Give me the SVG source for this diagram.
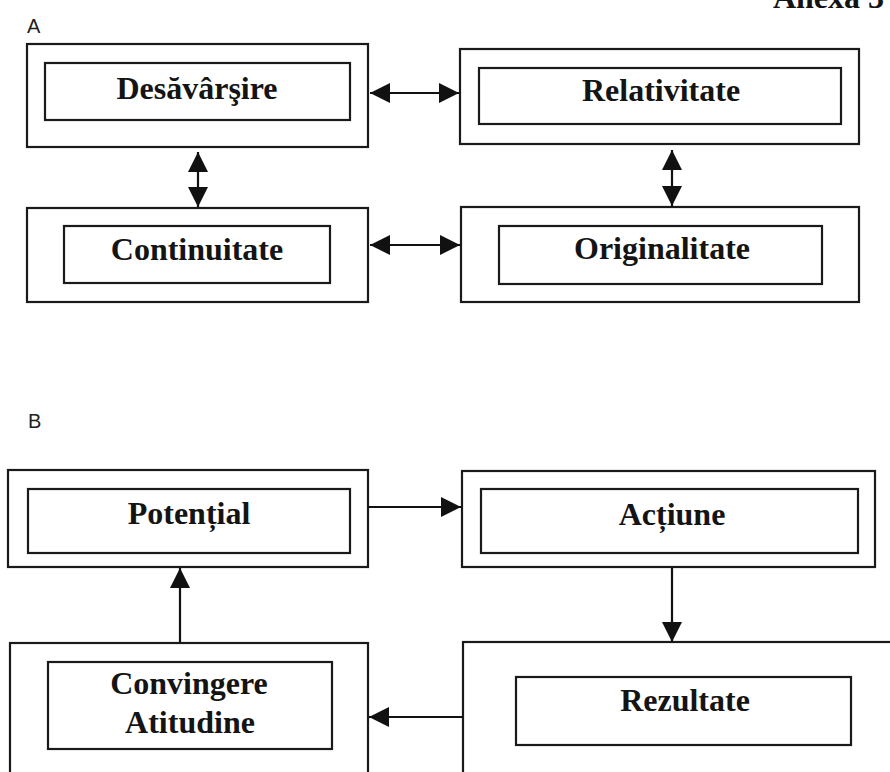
<svg xmlns="http://www.w3.org/2000/svg" width="890" height="772" viewBox="0 0 890 772">
  <defs>
    <marker id="head" viewBox="0 0 20 20" refX="20" refY="10" markerWidth="20" markerHeight="20" markerUnits="userSpaceOnUse" orient="auto-start-reverse">
      <path d="M0,0 L20,10 L0,20 Z" fill="#111"/>
    </marker>
    <style>
      .frame { fill: none; stroke: #1a1a1a; stroke-width: 2.2; }
      .label { font-family: "Liberation Serif", "Times New Roman", serif; font-weight: bold; font-size: 32px; fill: #141414; text-anchor: middle; }
      .tag { font-family: "Liberation Sans", Arial, sans-serif; font-size: 20px; fill: #222; }
      .link { stroke: #111; stroke-width: 2.2; fill: none; }
      .both { marker-start: url(#head); marker-end: url(#head); }
      .one { marker-end: url(#head); }
    </style>
  </defs>
  <rect width="890" height="772" fill="#ffffff"/>

  <!-- page heading, running into the top edge -->
  <text x="884" y="8" class="label" style="text-anchor:end">Anexa 3</text>

  <!-- Part A -->
  <text x="27" y="33" class="tag">A</text>

  <g id="desavarsire">
    <rect class="frame" x="27" y="44" width="341" height="103"/>
    <rect class="frame" x="45" y="63" width="305" height="57"/>
    <text class="label" x="197" y="99">Desăvârşire</text>
  </g>

  <g id="relativitate">
    <rect class="frame" x="460" y="49" width="399" height="95"/>
    <rect class="frame" x="479" y="68" width="362" height="56"/>
    <text class="label" x="661" y="101">Relativitate</text>
  </g>

  <g id="continuitate">
    <rect class="frame" x="27" y="208" width="341" height="94"/>
    <rect class="frame" x="64" y="226" width="266" height="57"/>
    <text class="label" x="197" y="260">Continuitate</text>
  </g>

  <g id="originalitate">
    <rect class="frame" x="461" y="207" width="398" height="95"/>
    <rect class="frame" x="499" y="226" width="323" height="58"/>
    <text class="label" x="662" y="259">Originalitate</text>
  </g>

  <!-- Part B -->
  <text x="28" y="428" class="tag">B</text>

  <g id="potential">
    <rect class="frame" x="8" y="470" width="360" height="97"/>
    <rect class="frame" x="28" y="489" width="322" height="64"/>
    <text class="label" x="189" y="524">Potențial</text>
  </g>

  <g id="actiune">
    <rect class="frame" x="462" y="471" width="413" height="96"/>
    <rect class="frame" x="481" y="489" width="377" height="64"/>
    <text class="label" x="672" y="525">Acțiune</text>
  </g>

  <g id="convingere">
    <rect class="frame" x="10" y="643" width="358" height="140"/>
    <rect class="frame" x="48" y="662" width="284" height="87"/>
    <text class="label" x="189" y="694">Convingere</text>
    <text class="label" x="190" y="733">Atitudine</text>
  </g>

  <g id="rezultate">
    <rect class="frame" x="463" y="642" width="432" height="140"/>
    <rect class="frame" x="516" y="677" width="335" height="68"/>
    <text class="label" x="685" y="711">Rezultate</text>
  </g>

  <!-- connectors -->
  <g id="connectors">
    <line class="link both" x1="370" y1="93" x2="459" y2="93"/>
    <line class="link both" x1="198" y1="152" x2="198" y2="207"/>
    <line class="link both" x1="672" y1="150" x2="672" y2="206"/>
    <line class="link both" x1="370" y1="245" x2="460" y2="245"/>

    <line class="link one" x1="368" y1="507" x2="461" y2="507"/>
    <line class="link one" x1="672" y1="567" x2="672" y2="642"/>
    <line class="link one" x1="463" y1="717" x2="369" y2="717"/>
    <line class="link one" x1="180" y1="642" x2="180" y2="568"/>
  </g>
</svg>
